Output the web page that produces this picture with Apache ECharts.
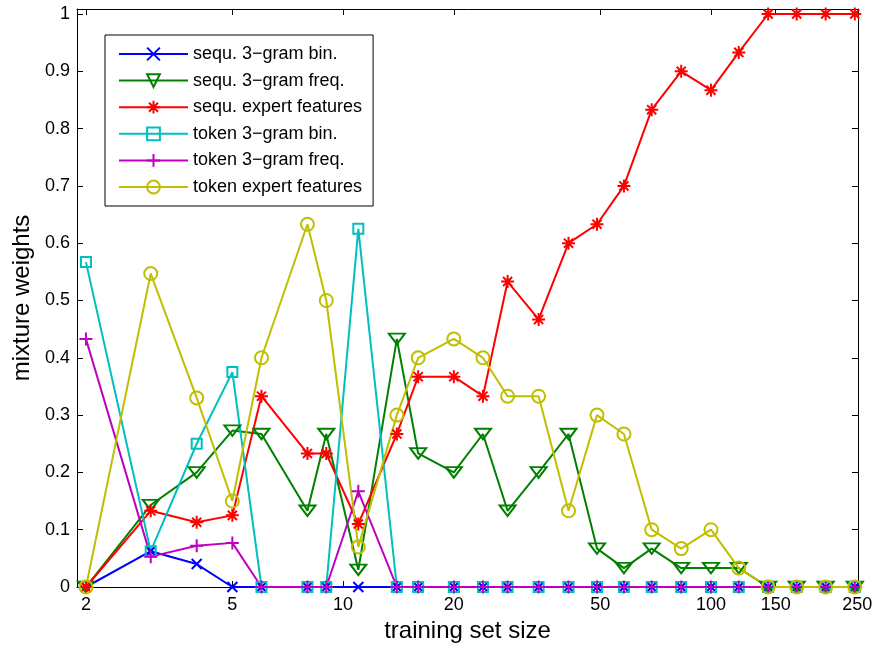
<!DOCTYPE html>
<html>
<head>
<meta charset="utf-8">
<script src="https://cdn.jsdelivr.net/npm/echarts@6/dist/echarts.min.js"></script>
<style>
  html, body { margin: 0; padding: 0; background: #fff; }
  #chart { width: 874px; height: 646px; }
</style>
</head>
<body>
<div id="chart"></div>
<script>
// training set sizes (log x axis)
const trainingSizes = [2, 3, 4, 5, 6, 8, 9, 11, 14, 16, 20, 24, 28, 34, 41, 49, 58, 69, 83, 100, 119, 143, 171, 205, 246];

// mixture weights per feature set
const seqBin = [0, 0.0625, 0.04, 0, 0, 0, 0, 0, 0, 0, 0, 0, 0, 0, 0, 0, 0, 0, 0, 0, 0, 0, 0, 0, 0];
const seqFreq = [0, 0.143, 0.2, 0.273, 0.267, 0.133, 0.267, 0.03, 0.433, 0.233, 0.2, 0.267, 0.133, 0.2, 0.267, 0.067, 0.033, 0.067, 0.033, 0.033, 0.033, 0, 0, 0, 0];
const seqExpert = [0, 0.133, 0.113, 0.125, 0.333, 0.233, 0.233, 0.11, 0.267, 0.367, 0.367, 0.333, 0.533, 0.467, 0.6, 0.633, 0.7, 0.833, 0.9, 0.867, 0.933, 1, 1, 1, 1];
const tokBin = [0.567, 0.0625, 0.25, 0.375, 0, 0, 0, 0.625, 0, 0, 0, 0, 0, 0, 0, 0, 0, 0, 0, 0, 0, 0, 0, 0, 0];
const tokFreq = [0.433, 0.053, 0.072, 0.077, 0, 0, 0, 0.167, 0, 0, 0, 0, 0, 0, 0, 0, 0, 0, 0, 0, 0, 0, 0, 0, 0];
const tokExpert = [0, 0.547, 0.33, 0.15, 0.4, 0.633, 0.5, 0.07, 0.3, 0.4, 0.433, 0.4, 0.333, 0.333, 0.133, 0.3, 0.267, 0.1, 0.067, 0.1, 0.033, 0, 0, 0, 0];

const xTicks = [2, 5, 10, 20, 50, 100, 150, 250];
const yTicks = [0, 0.1, 0.2, 0.3, 0.4, 0.5, 0.6, 0.7, 0.8, 0.9, 1];

// matlab-like marker shapes
const markers = {
  cross: 'path://M0,0L10,10M0,10L10,0',
  triangleDown: 'path://M0,0L16,0L8,13Z',
  asterisk: 'path://M0,5L10,5M5,0L5,10M1.5,1.5L8.5,8.5M1.5,8.5L8.5,1.5',
  square: 'path://M0,0L10,0L10,10L0,10Z',
  plus: 'path://M0,5L10,5M5,0L5,10',
  circle: 'path://M10,5A5,5 0 1,1 0,5A5,5 0 1,1 10,5Z',
};

const seriesDefs = [
  { name: 'sequ. 3\u2212gram bin.', values: seqBin, color: '#0000ff', symbol: markers.cross, size: 10 },
  { name: 'sequ. 3\u2212gram freq.', values: seqFreq, color: '#008000', symbol: markers.triangleDown, size: [16, 13] },
  { name: 'sequ. expert features', values: seqExpert, color: '#ff0000', symbol: markers.asterisk, size: 13 },
  { name: 'token 3\u2212gram bin.', values: tokBin, color: '#00bfbf', symbol: markers.square, size: 10 },
  { name: 'token 3\u2212gram freq.', values: tokFreq, color: '#bf00bf', symbol: markers.plus, size: 13 },
  { name: 'token expert features', values: tokExpert, color: '#bfbf00', symbol: markers.circle, size: 13 },
];

const font = 'Liberation Sans';
const axisLineStyle = { color: '#000', width: 1 };

const xAxisBase = {
  type: 'log',
  logBase: 10,
  min: 1.891,
  max: 251,
  axisLine: { show: true, onZero: false, lineStyle: axisLineStyle },
  axisTick: { show: true, inside: true, length: 6, customValues: xTicks, lineStyle: axisLineStyle },
  splitLine: { show: false },
  minorTick: { show: false },
};

const yAxisBase = {
  type: 'value',
  min: 0,
  max: 1.0087,
  axisLine: { show: true, onZero: false, lineStyle: axisLineStyle },
  axisTick: { show: true, inside: true, length: 6, customValues: yTicks, lineStyle: axisLineStyle },
  splitLine: { show: false },
};

const chart = echarts.init(document.getElementById('chart'), null, { renderer: 'canvas' });

const option = {
  animation: false,
  textStyle: { fontFamily: font },
  grid: { left: 77, right: 16, top: 9, bottom: 59, containLabel: false, outerBoundsMode: 'none' },
  legend: {
    orient: 'vertical',
    left: 105,
    top: 35,
    padding: [10, 11, 10, 13],
    backgroundColor: '#fff',
    borderColor: '#000',
    borderWidth: 1,
    itemWidth: 69,
    itemHeight: 16,
    itemGap: 8.6,
    textStyle: { fontFamily: font, fontSize: 18, color: '#000' },
    data: seriesDefs.map((s) => s.name),
  },
  xAxis: [
    {
      ...xAxisBase,
      position: 'bottom',
      name: 'training set size',
      nameLocation: 'middle',
      nameGap: 32,
      nameTextStyle: { fontFamily: font, fontSize: 24, color: '#000' },
      axisLabel: { show: true, customValues: xTicks, fontFamily: font, fontSize: 18, color: '#000', margin: 9 },
    },
    {
      ...xAxisBase,
      position: 'top',
      axisLabel: { show: false },
    },
  ],
  yAxis: [
    {
      ...yAxisBase,
      position: 'left',
      name: 'mixture weights',
      nameLocation: 'middle',
      nameGap: 33,
      nameTextStyle: { fontFamily: font, fontSize: 24, color: '#000' },
      axisLabel: { show: true, customValues: yTicks, fontFamily: font, fontSize: 18, color: '#000', margin: 7 },
    },
    {
      ...yAxisBase,
      position: 'right',
      axisLabel: { show: false },
    },
  ],
  series: seriesDefs.map((s) => ({
    name: s.name,
    type: 'line',
    xAxisIndex: 0,
    yAxisIndex: 0,
    data: trainingSizes.map((x, i) => [x, s.values[i]]),
    symbol: s.symbol,
    symbolSize: s.size,
    symbolKeepAspect: true,
    showSymbol: true,
    showAllSymbol: true,
    clip: false,
    lineStyle: { color: s.color, width: 2 },
    itemStyle: { color: 'none', borderColor: s.color, borderWidth: 2 },
    emphasis: { disabled: true },
  })),
};

chart.setOption(option);
</script>
</body>
</html>
